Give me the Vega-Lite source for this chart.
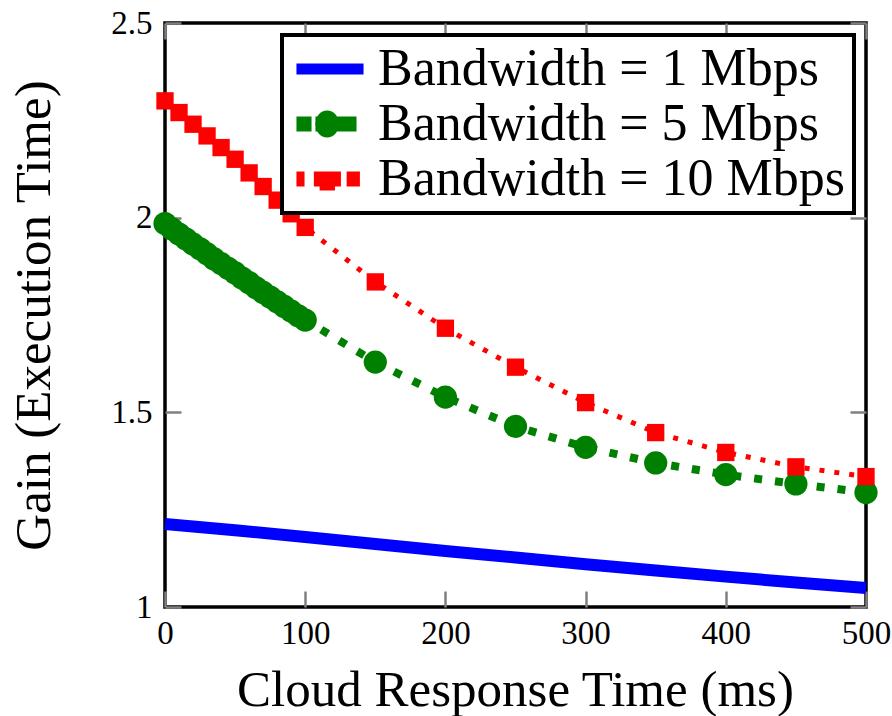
{
  "$schema": "https://vega.github.io/schema/vega-lite/v6.json",
  "width": 701,
  "height": 584,
  "autosize": {"type": "none"},
  "padding": {"left": 165, "top": 23, "right": 26, "bottom": 109},
  "background": "white",
  "config": {
    "view": {"stroke": "black", "strokeWidth": 3.5},
    "font": "Liberation Serif",
    "axis": {
      "domain": false,
      "grid": false,
      "tickColor": "#808080",
      "tickWidth": 2.5,
      "tickSize": -16,
      "labelFont": "Liberation Serif",
      "labelFontSize": 33,
      "labelColor": "black",
      "titleFont": "Liberation Serif",
      "titleFontSize": 51,
      "titleFontWeight": "normal",
      "titleColor": "black"
    }
  },
  "datasets": {
    "curves": [
      {"x": 0, "gain": 1.213, "series": "Bandwidth = 1 Mbps"},
      {"x": 50, "gain": 1.197, "series": "Bandwidth = 1 Mbps"},
      {"x": 100, "gain": 1.18, "series": "Bandwidth = 1 Mbps"},
      {"x": 150, "gain": 1.162, "series": "Bandwidth = 1 Mbps"},
      {"x": 200, "gain": 1.144, "series": "Bandwidth = 1 Mbps"},
      {"x": 250, "gain": 1.127, "series": "Bandwidth = 1 Mbps"},
      {"x": 300, "gain": 1.11, "series": "Bandwidth = 1 Mbps"},
      {"x": 350, "gain": 1.094, "series": "Bandwidth = 1 Mbps"},
      {"x": 400, "gain": 1.078, "series": "Bandwidth = 1 Mbps"},
      {"x": 450, "gain": 1.063, "series": "Bandwidth = 1 Mbps"},
      {"x": 500, "gain": 1.049, "series": "Bandwidth = 1 Mbps"},
      {"x": 0, "gain": 1.985, "series": "Bandwidth = 5 Mbps"},
      {"x": 5, "gain": 1.971, "series": "Bandwidth = 5 Mbps"},
      {"x": 10, "gain": 1.958, "series": "Bandwidth = 5 Mbps"},
      {"x": 15, "gain": 1.945, "series": "Bandwidth = 5 Mbps"},
      {"x": 20, "gain": 1.932, "series": "Bandwidth = 5 Mbps"},
      {"x": 25, "gain": 1.92, "series": "Bandwidth = 5 Mbps"},
      {"x": 30, "gain": 1.907, "series": "Bandwidth = 5 Mbps"},
      {"x": 35, "gain": 1.894, "series": "Bandwidth = 5 Mbps"},
      {"x": 40, "gain": 1.882, "series": "Bandwidth = 5 Mbps"},
      {"x": 45, "gain": 1.87, "series": "Bandwidth = 5 Mbps"},
      {"x": 50, "gain": 1.858, "series": "Bandwidth = 5 Mbps"},
      {"x": 55, "gain": 1.845, "series": "Bandwidth = 5 Mbps"},
      {"x": 60, "gain": 1.833, "series": "Bandwidth = 5 Mbps"},
      {"x": 65, "gain": 1.82, "series": "Bandwidth = 5 Mbps"},
      {"x": 70, "gain": 1.808, "series": "Bandwidth = 5 Mbps"},
      {"x": 75, "gain": 1.796, "series": "Bandwidth = 5 Mbps"},
      {"x": 80, "gain": 1.784, "series": "Bandwidth = 5 Mbps"},
      {"x": 85, "gain": 1.772, "series": "Bandwidth = 5 Mbps"},
      {"x": 90, "gain": 1.76, "series": "Bandwidth = 5 Mbps"},
      {"x": 95, "gain": 1.748, "series": "Bandwidth = 5 Mbps"},
      {"x": 100, "gain": 1.737, "series": "Bandwidth = 5 Mbps"},
      {"x": 150, "gain": 1.629, "series": "Bandwidth = 5 Mbps"},
      {"x": 200, "gain": 1.539, "series": "Bandwidth = 5 Mbps"},
      {"x": 250, "gain": 1.464, "series": "Bandwidth = 5 Mbps"},
      {"x": 300, "gain": 1.41, "series": "Bandwidth = 5 Mbps"},
      {"x": 350, "gain": 1.37, "series": "Bandwidth = 5 Mbps"},
      {"x": 400, "gain": 1.34, "series": "Bandwidth = 5 Mbps"},
      {"x": 450, "gain": 1.316, "series": "Bandwidth = 5 Mbps"},
      {"x": 500, "gain": 1.294, "series": "Bandwidth = 5 Mbps"},
      {"x": 0, "gain": 2.3, "series": "Bandwidth = 10 Mbps"},
      {"x": 10, "gain": 2.27, "series": "Bandwidth = 10 Mbps"},
      {"x": 20, "gain": 2.24, "series": "Bandwidth = 10 Mbps"},
      {"x": 30, "gain": 2.21, "series": "Bandwidth = 10 Mbps"},
      {"x": 40, "gain": 2.18, "series": "Bandwidth = 10 Mbps"},
      {"x": 50, "gain": 2.15, "series": "Bandwidth = 10 Mbps"},
      {"x": 60, "gain": 2.115, "series": "Bandwidth = 10 Mbps"},
      {"x": 70, "gain": 2.08, "series": "Bandwidth = 10 Mbps"},
      {"x": 80, "gain": 2.045, "series": "Bandwidth = 10 Mbps"},
      {"x": 90, "gain": 2.01, "series": "Bandwidth = 10 Mbps"},
      {"x": 100, "gain": 1.975, "series": "Bandwidth = 10 Mbps"},
      {"x": 150, "gain": 1.835, "series": "Bandwidth = 10 Mbps"},
      {"x": 200, "gain": 1.716, "series": "Bandwidth = 10 Mbps"},
      {"x": 250, "gain": 1.616, "series": "Bandwidth = 10 Mbps"},
      {"x": 300, "gain": 1.525, "series": "Bandwidth = 10 Mbps"},
      {"x": 350, "gain": 1.448, "series": "Bandwidth = 10 Mbps"},
      {"x": 400, "gain": 1.397, "series": "Bandwidth = 10 Mbps"},
      {"x": 450, "gain": 1.36, "series": "Bandwidth = 10 Mbps"},
      {"x": 500, "gain": 1.335, "series": "Bandwidth = 10 Mbps"}
    ]
  },
  "data": {"name": "curves"},
  "resolve": {"axis": {"x": "independent", "y": "independent"}},
  "layer": [
    {
      "transform": [{"filter": "datum.series === 'Bandwidth = 1 Mbps'"}],
      "mark": {"type": "line", "strokeWidth": 12},
      "encoding": {
        "x": {"field": "x", "type": "quantitative", "scale": {"domain": [0, 500], "nice": false, "zero": false},
          "axis": {"orient": "bottom", "values": [0, 100, 200, 300, 400, 500], "title": "Cloud Response Time (ms)",
            "labelFlush": false, "labelOverlap": false, "labelPadding": 26,
            "titleX": 350, "titleY": 98, "titleBaseline": "alphabetic", "titleAlign": "center"}},
        "y": {"field": "gain", "type": "quantitative", "scale": {"domain": [1, 2.5], "nice": false, "zero": false},
          "axis": {"orient": "left", "values": [1, 1.5, 2, 2.5], "labelExpr": "'' + datum.value", "title": "Gain (Execution Time)",
            "labelFlush": false, "labelOverlap": false, "labelPadding": 29,
            "titleX": -116, "titleY": 292, "titleAngle": -90, "titleBaseline": "alphabetic", "titleAlign": "center"}},
        "color": {"field": "series", "type": "nominal",
          "scale": {"domain": ["Bandwidth = 1 Mbps", "Bandwidth = 5 Mbps", "Bandwidth = 10 Mbps"], "range": ["#0000ff", "#008000", "#ff0000"]},
          "legend": {
            "orient": "top-right", "offset": 12, "title": null, "padding": 8,
            "strokeColor": "black", "fillColor": "white", "cornerRadius": 0,
            "labelFont": "Liberation Serif", "labelFontSize": 52, "labelColor": "black", "labelLimit": 0,
            "symbolSize": 2704, "rowPadding": 3, "symbolOffset": 14, "labelOffset": 22,
            "encode": {
              "legend": {"update": {"strokeWidth": {"value": 4}}},
              "symbols": {
                "update": {
                  "shape": {"signal": "datum.value === 'Bandwidth = 1 Mbps' ? 'M-1.29,-0.21H1.29V0.21H-1.29Z' : datum.value === 'Bandwidth = 5 Mbps' ? 'M-1.29,-0.29H-0.71V0.29H-1.29Z M-0.56,-0.29H1.02V0.29H-0.56Z M-0.57,0A0.46,0.52 0 1,1 0.35,0A0.46,0.52 0 1,1 -0.57,0Z' : 'M-1.29,-0.29H-0.98V0.29H-1.29Z M-0.62,-0.29H0.42V0.29H-0.62Z M-0.4,0.29H0.19V0.44H-0.4Z M0.64,-0.29H1.15V0.29H0.64Z'"},
                  "fill": {"signal": "scale('color', datum.value)"},
                  "strokeWidth": {"value": 0},
                  "opacity": {"value": 1}
                }
              }
            }
          }}
      }
    },
    {
      "transform": [{"filter": "datum.series === 'Bandwidth = 5 Mbps'"}],
      "mark": {"type": "line", "strokeWidth": 8, "strokeDash": [8, 13]},
      "encoding": {
        "x": {"field": "x", "type": "quantitative", "axis": {"orient": "top", "values": [0, 100, 200, 300, 400, 500], "labels": false, "title": null}},
        "y": {"field": "gain", "type": "quantitative", "axis": {"orient": "right", "values": [1, 1.5, 2, 2.5], "labels": false, "title": null}},
        "color": {"field": "series", "type": "nominal"}
      }
    },
    {
      "transform": [{"filter": "datum.series === 'Bandwidth = 10 Mbps'"}],
      "mark": {"type": "line", "strokeWidth": 5, "strokeDash": [5, 10]},
      "encoding": {
        "x": {"field": "x", "type": "quantitative", "axis": null},
        "y": {"field": "gain", "type": "quantitative", "axis": null},
        "color": {"field": "series", "type": "nominal"}
      }
    },
    {
      "transform": [{"filter": "datum.series === 'Bandwidth = 5 Mbps'"}],
      "mark": {"type": "circle", "size": 540, "color": "#008000", "opacity": 1},
      "encoding": {
        "x": {"field": "x", "type": "quantitative", "axis": null},
        "y": {"field": "gain", "type": "quantitative", "axis": null}
      }
    },
    {
      "transform": [{"filter": "datum.series === 'Bandwidth = 10 Mbps'"}],
      "mark": {"type": "square", "size": 300, "color": "#ff0000", "opacity": 1},
      "encoding": {
        "x": {"field": "x", "type": "quantitative", "axis": null},
        "y": {"field": "gain", "type": "quantitative", "axis": null}
      }
    }
  ]
}
